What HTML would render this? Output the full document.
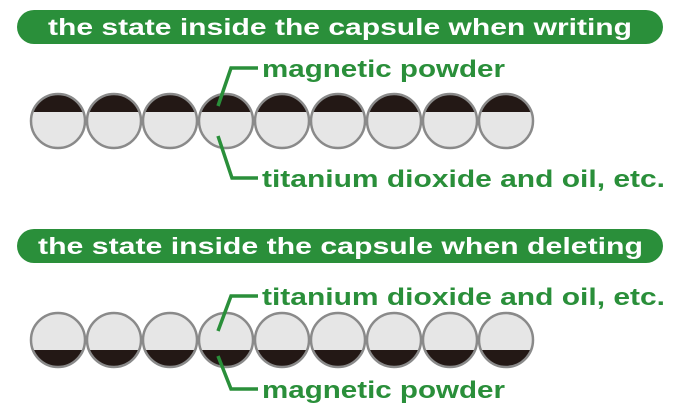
<!DOCTYPE html>
<html><head><meta charset="utf-8"><style>body{margin:0;background:#fff}svg{display:block}</style></head><body>
<svg width="690" height="420" viewBox="0 0 690 420" xmlns="http://www.w3.org/2000/svg" font-family="Liberation Sans, sans-serif" font-weight="bold">
<defs>
<clipPath id="c"><circle cx="0" cy="0" r="27"/></clipPath>
<g id="top"><circle r="27" fill="#e6e6e6"/><rect x="-30" y="-30" width="60" height="21" fill="#231815" clip-path="url(#c)"/><circle r="27" fill="none" stroke="#8a8a8a" stroke-width="2.5"/></g>
<g id="bot"><circle r="27" fill="#e6e6e6"/><rect x="-30" y="10" width="60" height="21" fill="#231815" clip-path="url(#c)"/><circle r="27" fill="none" stroke="#8a8a8a" stroke-width="2.5"/></g>
</defs>
<rect x="17" y="10" width="646" height="34" rx="17" fill="#2a8f3a"/>
<text x="48" y="35" fill="#fff" font-size="23" textLength="584" lengthAdjust="spacingAndGlyphs">the state inside the capsule when writing</text>
<rect x="17" y="229" width="646" height="34" rx="17" fill="#2a8f3a"/>
<text x="38" y="254" fill="#fff" font-size="23" textLength="605" lengthAdjust="spacingAndGlyphs">the state inside the capsule when deleting</text>
<use href="#top" x="58" y="121"/><use href="#top" x="114" y="121"/><use href="#top" x="170" y="121"/><use href="#top" x="226" y="121"/><use href="#top" x="282" y="121"/><use href="#top" x="338" y="121"/><use href="#top" x="394" y="121"/><use href="#top" x="450" y="121"/><use href="#top" x="506" y="121"/>
<use href="#bot" x="58" y="340"/><use href="#bot" x="114" y="340"/><use href="#bot" x="170" y="340"/><use href="#bot" x="226" y="340"/><use href="#bot" x="282" y="340"/><use href="#bot" x="338" y="340"/><use href="#bot" x="394" y="340"/><use href="#bot" x="450" y="340"/><use href="#bot" x="506" y="340"/>
<g fill="none" stroke="#2a8f3a" stroke-width="3.5">
<polyline points="218,106 231,68 258,68"/>
<polyline points="218,136 232,178 258,178"/>
<polyline points="218,331 231,296 258,296"/>
<polyline points="218,356 231,389 258,389"/>
</g>
<g fill="#2a8f3a" font-size="24">
<text x="262" y="77" textLength="243" lengthAdjust="spacingAndGlyphs">magnetic powder</text>
<text x="262" y="187" textLength="403" lengthAdjust="spacingAndGlyphs">titanium dioxide and oil, etc.</text>
<text x="262" y="305" textLength="403" lengthAdjust="spacingAndGlyphs">titanium dioxide and oil, etc.</text>
<text x="262" y="398" textLength="243" lengthAdjust="spacingAndGlyphs">magnetic powder</text>
</g>
</svg>
</body></html>
